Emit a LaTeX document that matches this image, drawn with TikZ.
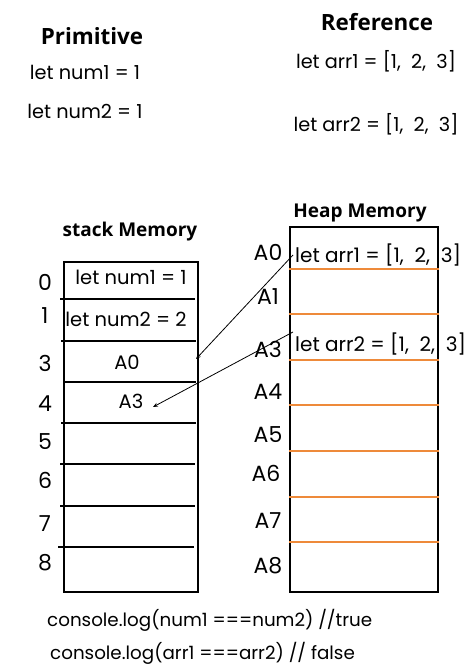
\documentclass[tikz,border=0pt]{standalone}
\usepackage{fontspec}
\setmainfont{Poppins}
\newfontfamily\titlefont{Open Sans}
\usetikzlibrary{arrows.meta}
\definecolor{heapline}{HTML}{EE8A3A}
\tikzset{
  body/.style={font=\fontsize{19.3}{22}\selectfont, inner sep=0pt, text=black},
  small/.style={font=\fontsize{19.5}{22}\selectfont, inner sep=0pt, text=black},
  heaptext/.style={font=\fontsize{20}{23}\selectfont, inner sep=0pt, text=black},
  code/.style={font=\fontsize{18.3}{21}\selectfont, inner sep=0pt, text=black},
  idx/.style={font=\fontsize{22}{25}\selectfont, inner sep=0pt, text=black},
  title/.style={font=\titlefont\bfseries\fontsize{22.4}{26}\selectfont, inner sep=0pt},
  subtitle/.style={font=\titlefont\bfseries\fontsize{19}{22}\selectfont, inner sep=0pt},
  frame/.style={draw=black, line width=2pt},
  sep/.style={draw=black, line width=2pt},
  osep/.style={draw=heapline, line width=2pt},
  ptr/.style={draw=black, line width=0.8pt, -{Stealth[length=5pt,width=4pt]}}
}
\begin{document}
\begin{tikzpicture}[x=1pt,y=1pt]
\useasboundingbox (0,0) rectangle (474,-671);
\fill[white] (0,0) rectangle (474,-671);
% top
\node[title] (prim) at (92,-36) {Primitive};
\node[title] (ref) at (377,-22) {Reference};
\node[body] (n1) at (85,-72) {let num1 = 1};
\node[body] (n2) at (85,-111) {let num2 = 1};
\node[body] (a1) at (376,-61) {let arr1 = [1,\ \ 2,\ \ 3]};
\node[body] (a2) at (376,-124) {let arr2 = [1,\ \ 2,\ \ 3]};
% stack
\node[subtitle] (st) at (130,-232) {stack Memory};
\node[frame, minimum width=134pt, minimum height=330pt, anchor=north west, inner sep=0pt] (stack) at (63,-261) {};
\draw[sep] (60,-299) -- (195,-299);
\draw[sep] (61,-341) -- (196,-341);
\draw[sep] (63,-382) -- (196,-382);
\draw[sep] (61,-423) -- (196,-423);
\draw[sep] (60,-464) -- (195,-464);
\draw[sep] (60,-506) -- (195,-506);
\draw[sep] (58,-547) -- (194,-547);
\node[idx] (i0) at (45,-282) {0};
\node[idx] (i1) at (45,-316) {1};
\node[idx] (i3) at (45,-363) {3};
\node[idx] (i4) at (45,-404) {4};
\node[idx] (i5) at (45,-442) {5};
\node[idx] (i6) at (45,-480) {6};
\node[idx] (i7) at (45,-524) {7};
\node[idx] (i8) at (45,-563) {8};
\node[small] (s1) at (131,-277) {let num1 = 1};
\node[small] (s2) at (126,-319) {let num2 = 2};
\node[small] (s3) at (127,-362) {A0};
\node[small] (s4) at (131,-401) {A3};
% heap
\node[subtitle] (hp) at (360,-213) {Heap Memory};
\node[frame, minimum width=148pt, minimum height=365pt, anchor=north west, inner sep=0pt] (heap) at (289,-226) {};
\foreach \y in {269,314,360,405,451,497,542} \draw[osep] (289,-\y) -- (439,-\y);
\node[idx] (h0) at (268,-252) {A0};
\node[idx] (h1) at (268,-297) {A1};
\node[idx] (h3) at (268,-349) {A3};
\node[idx] (h4) at (268,-392) {A4};
\node[idx] (h5) at (268,-435) {A5};
\node[idx] (h6) at (266,-473) {A6};
\node[idx] (h7) at (268,-521) {A7};
\node[idx] (h8) at (268,-566) {A8};
\node[heaptext, anchor=west] (ha1) at (295,-255) {let arr1 = [1,\ \ 2,\ \ 3]};
\node[heaptext, anchor=west] (ha2) at (295,-344) {let arr2 = [1,\ \ 2,\ \ 3]};
% pointers
\coordinate (p1s) at (293,-255);
\coordinate (p1e) at (196,-359);
\coordinate (p2s) at (293,-332);
\coordinate (p2e) at (153,-407);
\draw[ptr] (p1s) -- (p1e);
\draw[ptr] (p2s) -- (p2e);
% bottom
\node[code, anchor=west] (c1) at (47,-620) {console.log(num1 ===num2) //true};
\node[code, anchor=west] (c2) at (50,-653) {console.log(arr1 ===arr2) // false};
\end{tikzpicture}
\end{document}
